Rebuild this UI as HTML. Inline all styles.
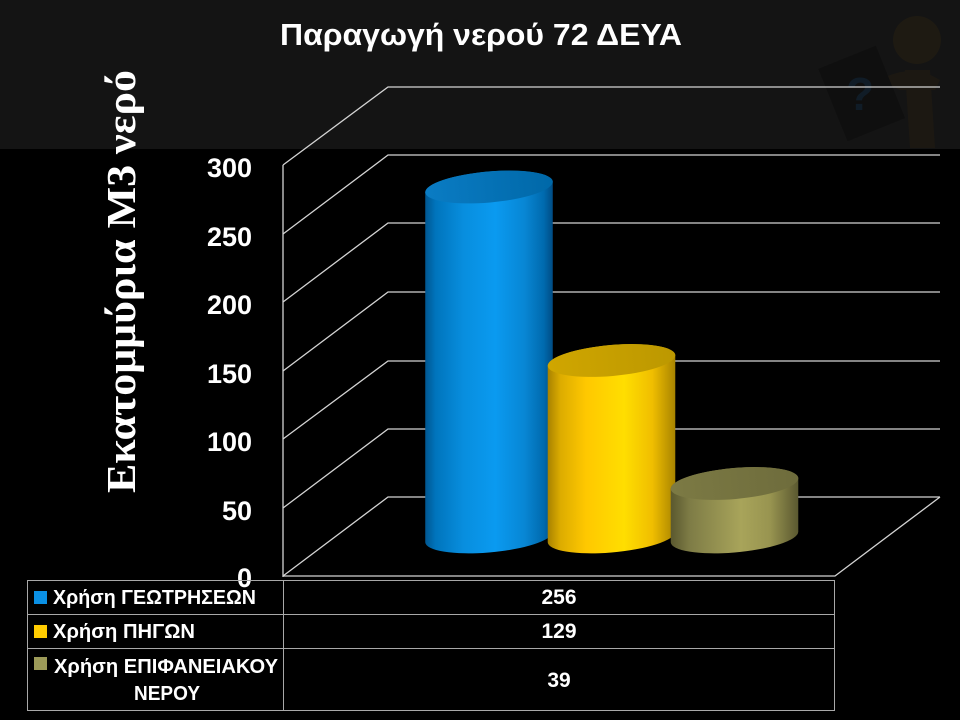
<!DOCTYPE html>
<html>
<head>
<meta charset="utf-8">
<style>
html,body{margin:0;padding:0;background:#000;}
svg{display:block;}
text{font-family:"Liberation Sans","DejaVu Sans",sans-serif;fill:#fff;}
</style>
</head>
<body>
<svg width="960" height="720" viewBox="0 0 960 720" xmlns="http://www.w3.org/2000/svg">
<defs>
<linearGradient id="gBlue" x1="0" y1="0" x2="1" y2="0">
<stop offset="0" stop-color="#005690"/>
<stop offset="0.08" stop-color="#0074bc"/>
<stop offset="0.3" stop-color="#088ede"/>
<stop offset="0.55" stop-color="#0a9af0"/>
<stop offset="0.78" stop-color="#0886d4"/>
<stop offset="0.93" stop-color="#006aae"/>
<stop offset="1" stop-color="#004c84"/>
</linearGradient>
<linearGradient id="gBlueTop" x1="0" y1="0" x2="1" y2="0">
<stop offset="0" stop-color="#0a7cc4"/>
<stop offset="1" stop-color="#0068a8"/>
</linearGradient>
<linearGradient id="gYel" x1="0" y1="0" x2="1" y2="0">
<stop offset="0" stop-color="#a88200"/>
<stop offset="0.1" stop-color="#dcac00"/>
<stop offset="0.3" stop-color="#ffc800"/>
<stop offset="0.6" stop-color="#ffde00"/>
<stop offset="0.82" stop-color="#f0be00"/>
<stop offset="1" stop-color="#a88400"/>
</linearGradient>
<linearGradient id="gYelTop" x1="0" y1="0" x2="1" y2="0">
<stop offset="0" stop-color="#d0a600"/>
<stop offset="1" stop-color="#bc9800"/>
</linearGradient>
<linearGradient id="gOl" x1="0" y1="0" x2="1" y2="0">
<stop offset="0" stop-color="#5a582e"/>
<stop offset="0.15" stop-color="#7e7c46"/>
<stop offset="0.55" stop-color="#a8a45a"/>
<stop offset="0.78" stop-color="#989450"/>
<stop offset="1" stop-color="#5a5830"/>
</linearGradient>
<linearGradient id="gOlTop" x1="0" y1="0" x2="1" y2="0">
<stop offset="0" stop-color="#7c7a44"/>
<stop offset="1" stop-color="#6e6c3c"/>
</linearGradient>
</defs>

<!-- background -->
<rect x="0" y="0" width="960" height="720" fill="#000"/>
<rect x="0" y="0" width="960" height="149" fill="#141414"/>

<!-- faint figure top right -->
<g opacity="0.4">
<circle cx="917" cy="40" r="24" fill="#2e2410"/>
<path d="M905 70 L930 70 L935 148 L910 148 Z" fill="#2a2010"/>
<path d="M880 80 Q900 68 925 72 L940 80 L935 90 L900 90 Z" fill="#2a2010"/>
<g transform="rotate(-22 860 92)">
<rect x="830" y="55" width="62" height="78" fill="#080808"/>
</g>
<text x="846" y="110" font-size="46" font-weight="bold" style="fill:#0c2a44">?</text>
</g>

<!-- title -->
<text x="280" y="45" font-size="31" font-weight="bold" textLength="402" lengthAdjust="spacingAndGlyphs">Παραγωγή νερού 72 ΔΕΥΑ</text>

<!-- y axis title -->
<text transform="translate(135,493) rotate(-90)" font-size="41" font-weight="bold" textLength="423" lengthAdjust="spacingAndGlyphs" style="font-family:'Liberation Serif','DejaVu Serif',serif;">Εκατομμύρια Μ3 νερό</text>

<!-- gridlines -->
<g stroke="#d4d4d4" stroke-width="1.3" fill="none">
<polyline points="283,165 388,87 940,87"/>
<polyline points="283,234 388,155 940,155"/>
<polyline points="283,302 388,223 940,223"/>
<polyline points="283,371 388,292 940,292"/>
<polyline points="283,439 388,361 940,361"/>
<polyline points="283,508 388,429 940,429"/>
<polyline points="283,576 388,497 940,497"/>
<line x1="283" y1="165" x2="283" y2="577"/>
<polyline points="283,576 835,576 940,497"/>
</g>

<!-- tick labels -->
<g font-size="27" font-weight="bold" text-anchor="end">
<text x="252" y="177">300</text>
<text x="252" y="246">250</text>
<text x="252" y="314">200</text>
<text x="252" y="383">150</text>
<text x="252" y="451">100</text>
<text x="252" y="520">50</text>
<text x="252" y="587">0</text>
</g>

<!-- cylinders -->
<!-- blue -->
<path d="M425.23,192.25 L425.23,542.25 A64,15.5 -5 0 0 552.77,531.75 L552.77,181.75 A64,15.5 -5 0 0 425.23,192.25 Z" fill="url(#gBlue)"/>
<ellipse cx="489" cy="187" rx="64" ry="15.5" fill="url(#gBlueTop)" transform="rotate(-5 489 187)"/>
<!-- yellow -->
<path d="M547.73,365.75 L547.73,542.25 A64,15.5 -5 0 0 675.27,531.75 L675.27,355.25 A64,15.5 -5 0 0 547.73,365.75 Z" fill="url(#gYel)"/>
<ellipse cx="611.5" cy="360.5" rx="64" ry="15.5" fill="url(#gYelTop)" transform="rotate(-5 611.5 360.5)"/>
<!-- olive -->
<path d="M670.73,488.75 L670.73,542.25 A64,15.5 -5 0 0 798.27,531.75 L798.27,478.25 A64,15.5 -5 0 0 670.73,488.75 Z" fill="url(#gOl)"/>
<ellipse cx="734.5" cy="483.5" rx="64" ry="15.5" fill="url(#gOlTop)" transform="rotate(-5 734.5 483.5)"/>

<!-- data table -->
<g stroke="#a8a8a8" stroke-width="1" fill="none">
<rect x="27.5" y="580.5" width="807" height="130"/>
<line x1="283.5" y1="580.5" x2="283.5" y2="710.5"/>
<line x1="27.5" y1="614.5" x2="834.5" y2="614.5"/>
<line x1="27.5" y1="648.5" x2="834.5" y2="648.5"/>
</g>
<rect x="34" y="591" width="13" height="13" fill="#0a90e4"/>
<rect x="34" y="625" width="13" height="13" fill="#ffcc00"/>
<rect x="34" y="657" width="13" height="13" fill="#9c9a58"/>
<g font-size="20.5" font-weight="bold">
<text x="53" y="604" textLength="203" lengthAdjust="spacingAndGlyphs">Χρήση ΓΕΩΤΡΗΣΕΩΝ</text>
<text x="53" y="638" textLength="142" lengthAdjust="spacingAndGlyphs">Χρήση ΠΗΓΩΝ</text>
<text x="54" y="673" textLength="224" lengthAdjust="spacingAndGlyphs">Χρήση ΕΠΙΦΑΝΕΙΑΚΟΥ</text>
<text x="134" y="700" textLength="66" lengthAdjust="spacingAndGlyphs">ΝΕΡΟΥ</text>
</g>
<g font-size="21" font-weight="bold" text-anchor="middle">
<text x="559" y="604">256</text>
<text x="559" y="638">129</text>
<text x="559" y="687">39</text>
</g>
</svg>
</body>
</html>
